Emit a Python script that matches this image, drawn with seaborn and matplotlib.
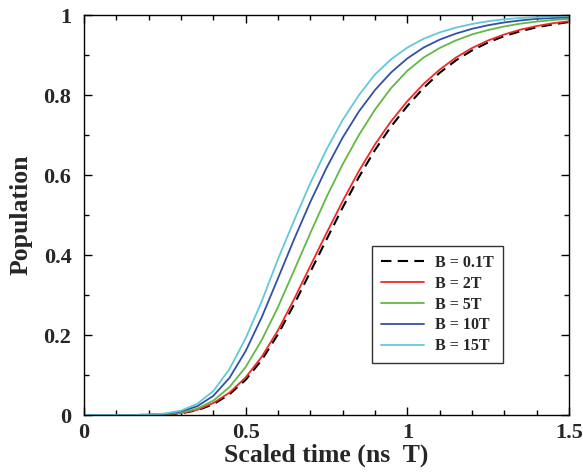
import matplotlib
matplotlib.use("Agg")
import matplotlib.pyplot as plt
import seaborn as sns
import pandas as pd
from matplotlib.ticker import MultipleLocator, FormatStrFormatter

# ---- data ----
time = [0.00, 0.05, 0.10, 0.15, 0.20, 0.25, 0.30, 0.35, 0.40, 0.45,
        0.50, 0.55, 0.60, 0.65, 0.70, 0.75, 0.80, 0.85, 0.90, 0.95,
        1.00, 1.05, 1.10, 1.15, 1.20, 1.25, 1.30, 1.35, 1.40, 1.45, 1.50]

pop_01T = [0, 0, 0, 0, 0.0005, 0.0015, 0.0045, 0.012, 0.027, 0.052,
           0.088, 0.138, 0.202, 0.277, 0.358, 0.439, 0.519, 0.595, 0.663, 0.722,
           0.773, 0.818, 0.856, 0.887, 0.912, 0.932, 0.948, 0.960, 0.970, 0.977, 0.983]
pop_2T = [0, 0, 0, 0, 0.0005, 0.002, 0.005, 0.013, 0.030, 0.056,
          0.094, 0.146, 0.212, 0.290, 0.373, 0.455, 0.535, 0.610, 0.677, 0.735,
          0.785, 0.828, 0.864, 0.894, 0.918, 0.937, 0.952, 0.964, 0.973, 0.980, 0.985]
pop_5T = [0, 0, 0, 0, 0.001, 0.002, 0.006, 0.016, 0.036, 0.070,
          0.120, 0.188, 0.270, 0.362, 0.455, 0.545, 0.627, 0.700, 0.764, 0.818,
          0.861, 0.894, 0.918, 0.937, 0.952, 0.963, 0.972, 0.979, 0.984, 0.988, 0.991]
pop_10T = [0, 0, 0, 0, 0.001, 0.003, 0.009, 0.022, 0.048, 0.093,
           0.160, 0.245, 0.342, 0.440, 0.533, 0.618, 0.694, 0.759, 0.813, 0.857,
           0.892, 0.919, 0.939, 0.954, 0.966, 0.975, 0.982, 0.987, 0.991, 0.993, 0.995]
pop_15T = [0, 0, 0, 0, 0.001, 0.004, 0.011, 0.028, 0.060, 0.115,
           0.192, 0.285, 0.390, 0.487, 0.580, 0.664, 0.738, 0.800, 0.852, 0.890,
           0.919, 0.941, 0.957, 0.969, 0.978, 0.985, 0.990, 0.993, 0.995, 0.997, 0.998]

labels = ["B = 0.1T", "B = 2T", "B = 5T", "B = 10T", "B = 15T"]
series = [pop_01T, pop_2T, pop_5T, pop_10T, pop_15T]
colors = ["#000000", "#f02828", "#62b845", "#3450a5", "#62c8dc"]
styles = [(0, (5, 3)), "-", "-", "-", "-"]

sns.set_theme(style="ticks")
plt.rcParams["font.family"] = ["Liberation Serif", "DejaVu Serif"]
plt.rcParams["font.weight"] = "bold"

fig = plt.figure(figsize=(5.83, 4.76), dpi=100)
ax = fig.add_axes([0.144, 0.128, 0.832, 0.840])

for lab, vals, col, ls in zip(labels, series, colors, styles):
    df = pd.DataFrame({"t": time, "p": vals})
    sns.lineplot(data=df, x="t", y="p", ax=ax, color=col, label=lab,
                 linewidth=1.3 if lab != "B = 0.1T" else 1.5, linestyle=ls)

ax.set_xlim(0, 1.5)
ax.set_ylim(0, 1)
ax.xaxis.set_major_locator(MultipleLocator(0.5))
ax.xaxis.set_minor_locator(MultipleLocator(0.1))
ax.yaxis.set_major_locator(MultipleLocator(0.2))
ax.yaxis.set_minor_locator(MultipleLocator(0.1))
ax.xaxis.set_major_formatter(FormatStrFormatter("%g"))
ax.yaxis.set_major_formatter(FormatStrFormatter("%g"))
ax.tick_params(which="both", direction="in", top=True, right=True,
               color="black", width=1)
ax.tick_params(which="major", length=6, labelsize=16)
ax.tick_params(axis="x", which="major", pad=6)
ax.tick_params(axis="y", which="major", pad=9)
ax.tick_params(which="minor", length=3.5)
for lab in ax.get_xticklabels() + ax.get_yticklabels():
    lab.set_fontweight("bold")
for sp in ax.spines.values():
    sp.set_color("black")
    sp.set_linewidth(1.0)

ax.set_xlabel("Scaled time (ns  T)", fontsize=18.5, fontweight="bold", labelpad=0)
ax.set_ylabel("Population", fontsize=18.5, fontweight="bold", labelpad=8)

leg = ax.legend(loc="upper left", bbox_to_anchor=(0.594, 0.4225), borderaxespad=0,
                frameon=True, fancybox=False, handlelength=2.7, handletextpad=0.7,
                labelspacing=0.3, borderpad=0.55,
                prop={"weight": "bold", "size": 11.5})
leg.get_frame().set_edgecolor("black")
leg.get_frame().set_linewidth(1.0)

fig.savefig("out.png", dpi=100)
